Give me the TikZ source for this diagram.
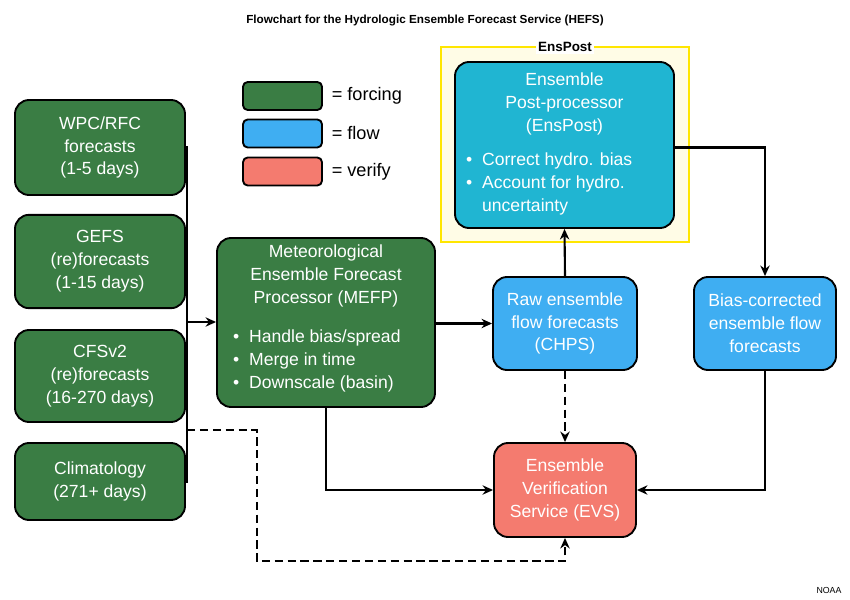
\documentclass[tikz,border=0pt]{standalone}
\usepackage{fontspec}
\setmainfont{Liberation Sans}
\usetikzlibrary{positioning,arrows.meta}
\definecolor{forcing}{HTML}{3A7D44}
\definecolor{flow}{HTML}{3FAEF2}
\definecolor{post}{HTML}{20B5D2}
\definecolor{verify}{HTML}{F47B6F}
\definecolor{ensbox}{HTML}{FFE600}
\definecolor{ensfill}{HTML}{FFFCE6}
\begin{document}
\begin{tikzpicture}[%
    x=0.03cm, y=-0.03cm,
    >={Stealth[length=9pt,width=8pt]},
    ]
% -------------------------------------------------
% Box styles
\tikzset{
  base/.style={draw=black, line width=1.6pt, rounded corners=12pt, align=center,
    text=white, font=\fontsize{15}{19.5}\selectfont, inner sep=0pt},
  frc/.style={base, fill=forcing},
  flw/.style={base, fill=flow},
  ver/.style={base, fill=verify},
  txt/.style={text=white, font=\fontsize{15}{19.5}\selectfont, inner sep=0pt},
  key/.style={draw=black, line width=1.6pt, rounded corners=4pt,
    minimum width=2.37cm, minimum height=0.84cm, inner sep=0pt},
  norm/.style={->, line width=1.8pt},
  dsh/.style={norm, dash pattern=on 7pt off 4pt},
}
\useasboundingbox (0,0) rectangle (850,600);
% -------------------------------------------------
% Title and source
\node (title) at (425,21) {\fontsize{10}{12}\selectfont\bfseries Flowchart for the Hydrologic Ensemble Forecast Service (HEFS)};
\node (noaa) at (829,590) {\fontsize{7.5}{9}\selectfont NOAA};
% EnsPost frame
\node [draw=ensbox, fill=ensfill, line width=2pt, minimum width=7.44cm, minimum height=5.85cm,
  inner sep=0pt] (frame) at (565,144.5) {};
\node [fill=white, inner sep=2pt, font=\fontsize{11.5}{13}\selectfont\bfseries] (ftag) at (565,47) {EnsPost};
% Legend
\node [key, fill=forcing] (k1) at (282.5,96) {};
\node [key, fill=flow] (k2) at (282.5,133.5) {};
\node [key, fill=verify] (k3) at (282.5,171.5) {};
\foreach \k/\t in {k1/forcing, k2/flow, k3/verify}
  \node [right=4pt of \k, font=\fontsize{15.5}{18}\selectfont] {= \t};
% Forcing inputs
\node [frc, minimum width=5.1cm, minimum height=2.85cm] (wpc) at (100,147.5) {WPC/RFC\\forecasts\\(1-5 days)};
\node [frc, minimum width=5.1cm, minimum height=2.8cm] (gefs) at (100,261.5) {GEFS\\(re)forecasts\\(1-15 days)};
\node [frc, minimum width=5.1cm, minimum height=2.76cm] (cfs) at (100,376) {CFSv2\\(re)forecasts\\(16-270 days)};
\node [frc, minimum width=5.1cm, minimum height=2.31cm] (clim) at (100,481.5) {Climatology\\(271+ days)};
% Processors
\node [frc, minimum width=6.54cm, minimum height=5.07cm] (mefp) at (326,322.5) {};
\node [txt, align=center] (mefpt) at (326,276)
  {Meteorological\\Ensemble Forecast\\Processor (MEFP)};
\node [txt, align=left, anchor=west] (mefpl) at (233,361)
  {\textbullet\ \ Handle bias/spread\\\textbullet\ \ Merge in time\\\textbullet\ \ Downscale (basin)};
\node [flw, minimum width=4.32cm, minimum height=2.79cm] (raw) at (565,323.5) {Raw ensemble\\flow forecasts\\(CHPS)};
\node [base, fill=post, minimum width=6.57cm, minimum height=4.98cm] (ens) at (564.5,145) {};
\node [txt, align=center] (enst) at (564.5,104)
  {Ensemble\\Post-processor\\(EnsPost)};
\node [txt, align=left, anchor=west] (ensl) at (466,184)
  {\textbullet\ \ Correct hydro. bias\\\textbullet\ \ Account for hydro.\\\phantom{\textbullet\ \ }uncertainty};
\node [flw, minimum width=4.26cm, minimum height=2.79cm] (bias) at (765,323.5) {Bias-corrected\\ensemble flow\\forecasts};
\node [ver, minimum width=4.26cm, minimum height=2.82cm] (evs) at (565,490) {Ensemble\\Verification\\Service (EVS)};
% -------------------------------------------------
% Connectors
\coordinate (bus) at (187,322);
\coordinate (tap) at (187,430);
\foreach \n in {wpc, gefs, cfs, clim}
  \draw [line width=1.8pt] (\n.east) -| (bus);
\draw [norm] (bus) -- (mefp.west |- bus);
\draw [dsh] (tap) -- ++(70,0) |- ([yshift=-20]evs.south) -- (evs.south);
\draw [norm] (mefp.east |- raw) -- (raw.west);
\draw [norm] (raw.north) -- (ens.south);
\draw [dsh] (raw.south) -- (evs.north);
\draw [norm] (ens.east |- wpc) -| (bias.north);
\draw [norm] (mefp.south) |- (evs.west);
\draw [norm] (bias.south) |- (evs.east);
% -------------------------------------------------
\end{tikzpicture}
\end{document}
